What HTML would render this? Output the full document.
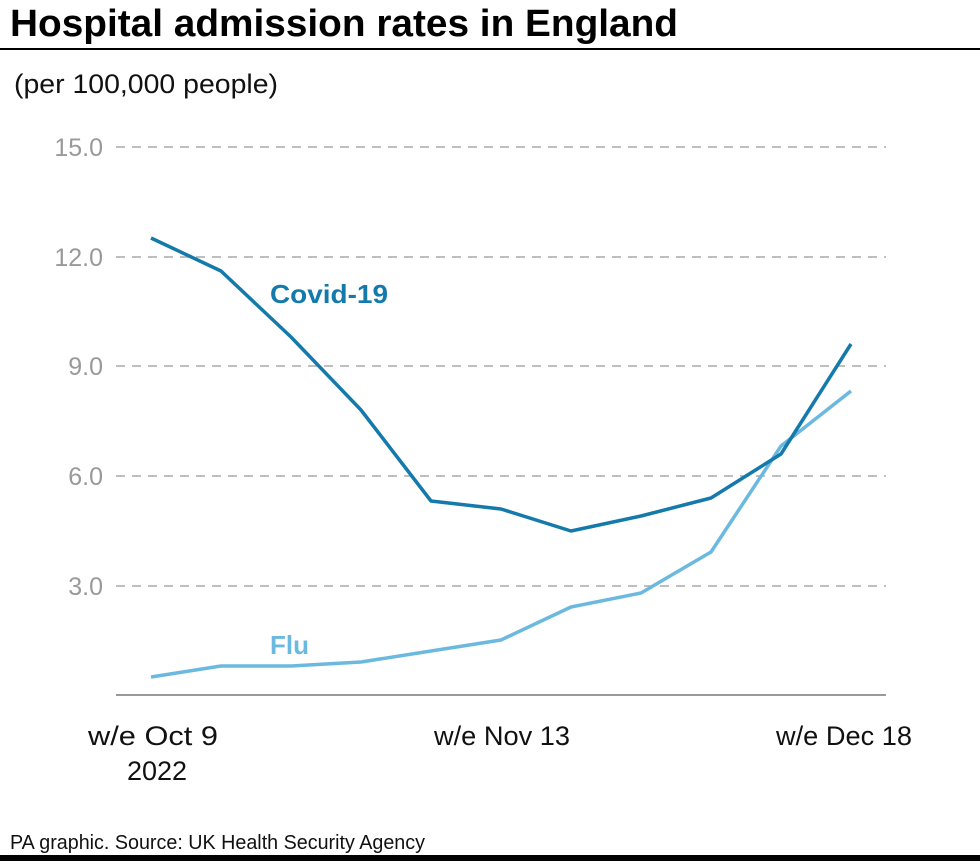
<!DOCTYPE html>
<html><head><meta charset="utf-8"><style>
body{margin:0;background:#fff;width:980px;height:861px;overflow:hidden;font-family:"Liberation Sans",sans-serif}
</style></head><body>
<svg width="980" height="861" xmlns="http://www.w3.org/2000/svg" font-family="Liberation Sans, sans-serif">
<text x="10" y="36" font-size="38" font-weight="bold" fill="#000" textLength="668" lengthAdjust="spacingAndGlyphs">Hospital admission rates in England</text>
<rect x="0" y="48" width="980" height="2" fill="#000"/>
<text x="14" y="93" font-size="27" fill="#111" textLength="264" lengthAdjust="spacingAndGlyphs">(per 100,000 people)</text>
<g font-size="25" fill="#999" text-anchor="end">
<text x="103" y="156">15.0</text><text x="103" y="266">12.0</text><text x="103" y="375">9.0</text><text x="103" y="485">6.0</text><text x="103" y="595">3.0</text>
</g>
<g stroke="#aaa" stroke-width="1.5" stroke-dasharray="9,7">
<line x1="116" y1="147" x2="886" y2="147"/><line x1="116" y1="257" x2="886" y2="257"/><line x1="116" y1="366" x2="886" y2="366"/><line x1="116" y1="476" x2="886" y2="476"/><line x1="116" y1="586" x2="886" y2="586"/>
</g>
<line x1="116" y1="695" x2="886" y2="695" stroke="#999" stroke-width="2"/>
<polyline fill="none" stroke="#6cb9df" stroke-width="3.5" stroke-linejoin="round" points="151,677 221,666 291,666 361,662 431,651 501,640 571,607 641,593 711,552 781,446 851,391"/>
<polyline fill="none" stroke="#137aab" stroke-width="3.5" stroke-linejoin="round" points="151,238 221,271 291,337 361,410 431,501 501,509 571,531 641,516 711,498 781,454 851,344"/>
<text x="270" y="303" font-size="26" font-weight="bold" fill="#137aab" textLength="118" lengthAdjust="spacingAndGlyphs">Covid-19</text>
<text x="270" y="654" font-size="26" font-weight="bold" fill="#6cb9df">Flu</text>
<g font-size="27" fill="#111" text-anchor="middle">
<text x="153" y="745" textLength="130" lengthAdjust="spacingAndGlyphs">w/e Oct 9</text><text x="157" y="780">2022</text>
<text x="502" y="745" textLength="136" lengthAdjust="spacingAndGlyphs">w/e Nov 13</text>
<text x="844" y="745" textLength="136" lengthAdjust="spacingAndGlyphs">w/e Dec 18</text>
</g>
<text x="10" y="849" font-size="20" fill="#111" textLength="415" lengthAdjust="spacingAndGlyphs">PA graphic. Source: UK Health Security Agency</text>
<rect x="0" y="855" width="980" height="6" fill="#000"/>
</svg>
</body></html>
